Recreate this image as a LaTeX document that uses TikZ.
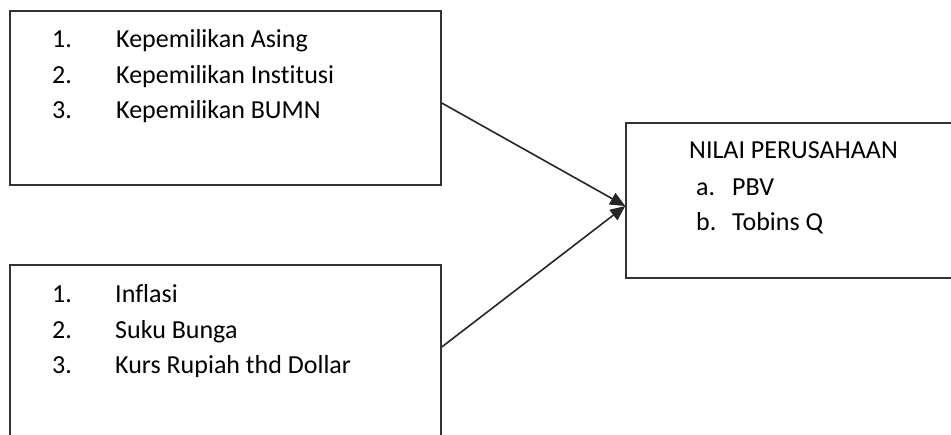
\documentclass[tikz,border=0pt]{standalone}
\usepackage{fontspec}
\setmainfont[Ligatures={NoCommon}]{Carlito}
\usetikzlibrary{arrows.meta}
\begin{document}
\begin{tikzpicture}[x=1pt,y=-1pt,
  boxstyle/.style={draw=black!80,line width=1.5pt,rectangle,inner sep=0pt,fill=none},
  txt/.style={anchor=base west,inner sep=0pt,font=\fontsize{26}{30}\selectfont,text=black},
  conn/.style={draw=black!85,line width=1.6pt,-{Triangle[length=15pt,width=13pt]}}]
\useasboundingbox (0,0) rectangle (951,434);
\clip (0,0) rectangle (951,434);
\node[boxstyle,minimum width=431pt,minimum height=174pt] (b1) at (225.5,98) {};
\node[boxstyle,minimum width=431pt,minimum height=180pt] (b2) at (225.5,355) {};
\node[boxstyle,minimum width=340pt,minimum height=155pt] (b3) at (796,200.5) {};
% box 1 text
\node[txt] (n11) at (52,47) {1.};
\node[txt] (t11) at (116,47) {Kepemilikan Asing};
\node[txt] (n12) at (52,83) {2.};
\node[txt] (t12) at (116,83) {Kepemilikan Institusi};
\node[txt] (n13) at (52,118) {3.};
\node[txt] (t13) at (116,118) {Kepemilikan BUMN};
% box 2 text
\node[txt] (n21) at (52,302) {1.};
\node[txt] (t21) at (115,302) {Inflasi};
\node[txt] (n22) at (52,338) {2.};
\node[txt] (t22) at (115,338) {Suku Bunga};
\node[txt] (n23) at (52,373) {3.};
\node[txt] (t23) at (115,373) {Kurs Rupiah thd Dollar};
% box 3 text
\node[txt] (h3) at (689,158) {NILAI PERUSAHAAN};
\node[txt] (a3) at (696,195) {a.};
\node[txt] (pbv) at (732,195) {PBV};
\node[txt] (b3l) at (696,230) {b.};
\node[txt] (tq) at (732,230) {Tobins Q};
% connectors
\coordinate (s1) at (b1.east |- 0,103);
\coordinate (s2) at (b2.east |- 0,347);
\coordinate (t) at (b3.west |- 0,206);
\draw[conn] (s1) -- (t);
\draw[conn] (s2) -- (t);
\end{tikzpicture}
\end{document}
